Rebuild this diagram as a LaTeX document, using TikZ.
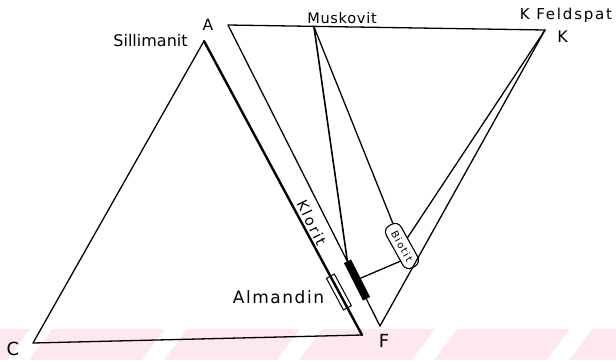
\documentclass[tikz,border=0pt]{standalone}
\usepackage{fontspec}
\setmainfont{DejaVu Sans}
\definecolor{wmpink}{RGB}{252,232,237}
\begin{document}
\begin{tikzpicture}[x=1pt,y=-1pt,
  edge/.style={line width=1.3pt, line cap=round, line join=round},
  heavy/.style={line width=2.4pt, line cap=round},
  lbl/.style={inner sep=0pt, anchor=base},
  rlbl/.style={inner sep=0pt, anchor=center}]
\useasboundingbox (0,0) rectangle (616,360);
% watermark band
\fill[wmpink] (0,329) rectangle (616,360);
\foreach \t in {30,165,300,435,570}{
  \fill[white] (\t,329) -- (\t+22,329) -- (\t-1,360) -- (\t-23,360) -- cycle;
}
% points
\coordinate (S) at (204,41);
\coordinate (C) at (33,343);
\coordinate (B) at (362,335);
\coordinate (A) at (228,25);
\coordinate (M) at (314,27);
\coordinate (K) at (545,30);
\coordinate (F) at (380,326);
% left triangle
\draw[edge] (S) -- (C) -- (B);
\draw[heavy] (S) -- (B);
% upper triangle
\draw[edge] (A) -- (K);
\draw[edge] (A) -- (F);
\draw[edge] (K) -- (F);
% almandin box on left edge
\node[draw, line width=1pt, minimum width=36pt, minimum height=9pt, inner sep=0pt,
      rotate=-61.7] (alm) at (338.9,292) {};
% black bar on A-F line
\node[fill=black, minimum width=42pt, minimum height=8pt, inner sep=0pt,
      rotate=-63] (bar) at (357,280) {};
% biotit blob with its label
\node[draw, line width=1.1pt, rounded corners=7pt, minimum width=48pt, minimum height=17pt,
      inner sep=0pt, rotate=-61,
      font=\fontsize{10}{10}\selectfont\addfontfeature{LetterSpace=15}] (bio) at (402,246) {Biotit};
% tie lines
\draw[line width=1.6pt] (M) -- (bar.west);
\draw[edge] (M) -- (bio);
\draw[edge] (K) -- (bio);
\draw[edge] (bio.-36) -- (bar.north);
% labels
\node[lbl, font=\fontsize{15.5}{15.5}\selectfont] (lA) at (208,30) {A};
\node[lbl, font=\fontsize{16}{16}\selectfont] (lS) at (150.5,46) {Sillimanit};
\node[lbl, font=\fontsize{14.5}{14.5}\selectfont\addfontfeature{LetterSpace=5}] (lM) at (342,23.5) {Muskovit};
\node[lbl, font=\fontsize{15}{15}\selectfont\addfontfeature{LetterSpace=12}] (lKF) at (566,19) {K Feldspat};
\node[lbl, font=\fontsize{16}{16}\selectfont] (lK) at (562.5,42) {K};
\node[lbl, font=\fontsize{18}{18}\selectfont] (lC) at (13,355) {C};
\node[lbl, font=\fontsize{18}{18}\selectfont] (lF) at (384,347) {F};
\node[lbl, font=\fontsize{17}{17}\selectfont\addfontfeature{LetterSpace=9}] (lAl) at (278.5,303) {Almandin};
\node[rlbl, rotate=-64, font=\fontsize{14.5}{14.5}\selectfont\addfontfeature{LetterSpace=14}] (lKl) at (311.7,222.7) {Klorit};
\end{tikzpicture}
\end{document}
